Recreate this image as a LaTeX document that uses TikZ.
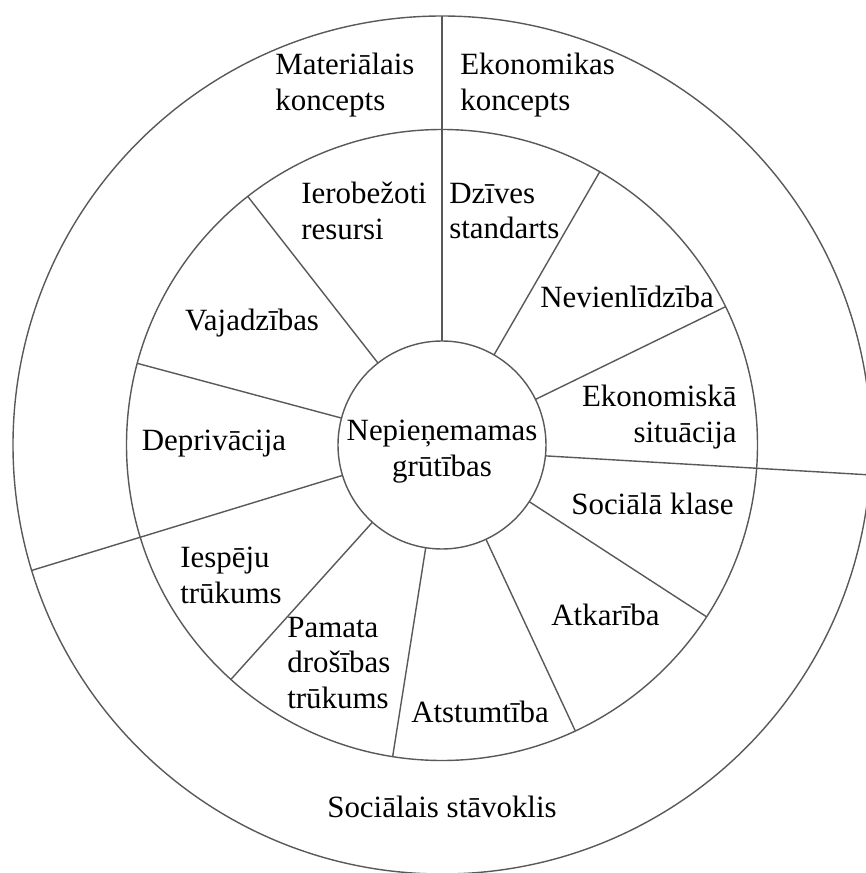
\documentclass[tikz,border=0pt]{standalone}
\usepackage{fontspec}
\setmainfont{Liberation Serif}
\usetikzlibrary{positioning}

\begin{document}
\begin{tikzpicture}[
    ring/.style={circle, draw=black!65, line width=0.8pt, outer sep=0pt},
    spoke/.style={draw=black!65, line width=0.8pt},
    lbl/.style={inner sep=0pt, align=left, font={\fontsize{17.6}{20.4}\selectfont}}
]
\useasboundingbox (-8.84,-8.56) rectangle (8.48,8.90);

\node[ring, minimum size=17.16cm] (outer) at (0,0) {};
\node[ring, minimum size=12.62cm] (middle) at (0,0) {};
\node[ring, minimum size=4.16cm] (core) at (0,0) {};
\node[lbl, align=center] (hardship) at (0,-0.13) {Nepieņemamas\\grūtības};

% three big sectors
\draw[spoke] (core.90) -- (outer.90);
\draw[spoke] (core.-6) -- (outer.-4);
\draw[spoke] (core.197) -- (outer.197);

% spokes of the middle ring
\draw[spoke] (core.60) -- (middle.60);
\draw[spoke] (core.26) -- (middle.26);
\draw[spoke] (core.327) -- (middle.327);
\draw[spoke] (core.295) -- (middle.295);
\draw[spoke] (core.261) -- (middle.261);
\draw[spoke] (core.228) -- (middle.228);
\draw[spoke] (core.165) -- (middle.165);
\draw[spoke] (core.128) -- (middle.128);

\node[lbl, anchor=west] (material) at (-3.34,7.20) {Materiālais\\koncepts};
\node[lbl, anchor=west] (economy) at (0.36,7.20) {Ekonomikas\\koncepts};
\node[lbl, anchor=center] (social) at (0,-7.24) {Sociālais stāvoklis};

\node[lbl, anchor=west] (resources) at (-2.82,4.68) {Ierobežoti\\resursi};
\node[lbl, anchor=west] (living) at (0.14,4.68) {Dzīves\\standarts};
\node[lbl] (inequality) at (3.70,2.96) {Nevienlīdzība};
\node[lbl] (needs) at (-3.80,2.44) {Vajadzības};
\node[lbl, anchor=east, align=right] (situation) at (5.90,0.56) {Ekonomiskā\\situācija};
\node[lbl] (deprivation) at (-4.56,0.02) {Deprivācija};
\node[lbl] (class) at (4.21,-1.18) {Sociālā klase};
\node[lbl, anchor=west] (chances) at (-5.24,-2.61) {Iespēju\\trūkums};
\node[lbl, anchor=west] (security) at (-3.10,-4.36) {Pamata\\drošības\\trūkums};
\node[lbl] (dependence) at (3.27,-3.40) {Atkarība};
\node[lbl] (exclusion) at (0.76,-5.34) {Atstumtība};

\end{tikzpicture}
\end{document}
